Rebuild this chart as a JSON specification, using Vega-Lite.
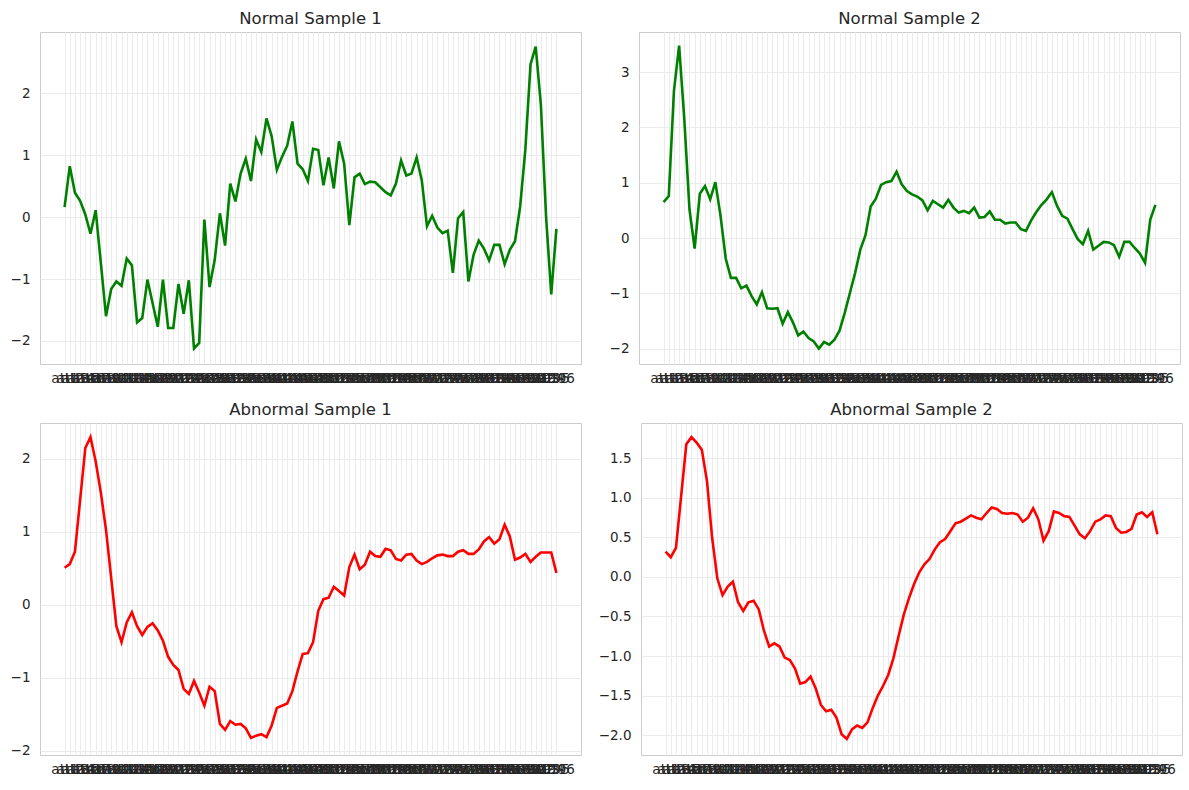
{
  "$schema": "https://vega.github.io/schema/vega-lite/v6.json",
  "padding": {"left": 9, "top": 10, "right": 5, "bottom": 5},
  "config": {
    "font": "DejaVu Sans",
    "view": {"stroke": "#cccccc", "strokeWidth": 1},
    "axis": {"labelFont": "DejaVu Sans", "labelFontSize": 13.5, "labelColor": "#262626", "grid": true, "gridColor": "#ebebeb", "gridWidth": 1, "domain": false, "ticks": false, "title": null},
    "title": {"fontSize": 16.5, "fontWeight": "normal", "color": "#262626", "font": "DejaVu Sans", "offset": 5, "anchor": "middle", "frame": "group"}
  },
  "data": {"values": [
    {"x":"att1","n1":0.16,"n2":0.65,"a1":0.51,"a2":0.32},
    {"x":"att2","n1":0.82,"n2":0.76,"a1":0.56,"a2":0.25},
    {"x":"att3","n1":0.39,"n2":2.66,"a1":0.73,"a2":0.37},
    {"x":"att4","n1":0.26,"n2":3.48,"a1":1.44,"a2":1.02},
    {"x":"att5","n1":0.04,"n2":2.15,"a1":2.15,"a2":1.68},
    {"x":"att6","n1":-0.27,"n2":0.52,"a1":2.30,"a2":1.77},
    {"x":"att7","n1":0.11,"n2":-0.19,"a1":1.97,"a2":1.70},
    {"x":"att8","n1":-0.74,"n2":0.80,"a1":1.54,"a2":1.61},
    {"x":"att9","n1":-1.60,"n2":0.94,"a1":1.03,"a2":1.21},
    {"x":"att10","n1":-1.16,"n2":0.70,"a1":0.37,"a2":0.49},
    {"x":"att11","n1":-1.04,"n2":1.01,"a1":-0.29,"a2":-0.02},
    {"x":"att12","n1":-1.11,"n2":0.40,"a1":-0.51,"a2":-0.23},
    {"x":"att13","n1":-0.67,"n2":-0.37,"a1":-0.24,"a2":-0.12},
    {"x":"att14","n1":-0.78,"n2":-0.72,"a1":-0.10,"a2":-0.06},
    {"x":"att15","n1":-1.70,"n2":-0.72,"a1":-0.29,"a2":-0.32},
    {"x":"att16","n1":-1.63,"n2":-0.91,"a1":-0.41,"a2":-0.43},
    {"x":"att17","n1":-1.01,"n2":-0.86,"a1":-0.30,"a2":-0.32},
    {"x":"att18","n1":-1.39,"n2":-1.05,"a1":-0.25,"a2":-0.30},
    {"x":"att19","n1":-1.77,"n2":-1.20,"a1":-0.35,"a2":-0.41},
    {"x":"att20","n1":-1.01,"n2":-0.98,"a1":-0.49,"a2":-0.68},
    {"x":"att21","n1":-1.79,"n2":-1.27,"a1":-0.71,"a2":-0.88},
    {"x":"att22","n1":-1.79,"n2":-1.28,"a1":-0.82,"a2":-0.84},
    {"x":"att23","n1":-1.08,"n2":-1.27,"a1":-0.89,"a2":-0.88},
    {"x":"att24","n1":-1.56,"n2":-1.55,"a1":-1.15,"a2":-1.02},
    {"x":"att25","n1":-1.02,"n2":-1.34,"a1":-1.22,"a2":-1.05},
    {"x":"att26","n1":-2.12,"n2":-1.53,"a1":-1.04,"a2":-1.16},
    {"x":"att27","n1":-2.03,"n2":-1.76,"a1":-1.20,"a2":-1.35},
    {"x":"att28","n1":-0.04,"n2":-1.69,"a1":-1.38,"a2":-1.33},
    {"x":"att29","n1":-1.13,"n2":-1.81,"a1":-1.12,"a2":-1.26},
    {"x":"att30","n1":-0.69,"n2":-1.87,"a1":-1.18,"a2":-1.41},
    {"x":"att31","n1":0.06,"n2":-2.00,"a1":-1.63,"a2":-1.62},
    {"x":"att32","n1":-0.46,"n2":-1.88,"a1":-1.71,"a2":-1.70},
    {"x":"att33","n1":0.54,"n2":-1.93,"a1":-1.59,"a2":-1.68},
    {"x":"att34","n1":0.25,"n2":-1.84,"a1":-1.64,"a2":-1.78},
    {"x":"att35","n1":0.70,"n2":-1.67,"a1":-1.63,"a2":-1.99},
    {"x":"att36","n1":0.94,"n2":-1.35,"a1":-1.69,"a2":-2.05},
    {"x":"att37","n1":0.58,"n2":-0.99,"a1":-1.82,"a2":-1.93},
    {"x":"att38","n1":1.25,"n2":-0.63,"a1":-1.79,"a2":-1.88},
    {"x":"att39","n1":1.05,"n2":-0.21,"a1":-1.77,"a2":-1.91},
    {"x":"att40","n1":1.59,"n2":0.05,"a1":-1.81,"a2":-1.84},
    {"x":"att41","n1":1.30,"n2":0.57,"a1":-1.65,"a2":-1.66},
    {"x":"att42","n1":0.76,"n2":0.71,"a1":-1.41,"a2":-1.50},
    {"x":"att43","n1":0.97,"n2":0.96,"a1":-1.38,"a2":-1.38},
    {"x":"att44","n1":1.15,"n2":1.01,"a1":-1.35,"a2":-1.24},
    {"x":"att45","n1":1.54,"n2":1.03,"a1":-1.18,"a2":-1.03},
    {"x":"att46","n1":0.86,"n2":1.20,"a1":-0.91,"a2":-0.75},
    {"x":"att47","n1":0.77,"n2":0.97,"a1":-0.67,"a2":-0.48},
    {"x":"att48","n1":0.58,"n2":0.85,"a1":-0.66,"a2":-0.27},
    {"x":"att49","n1":1.10,"n2":0.79,"a1":-0.51,"a2":-0.09},
    {"x":"att50","n1":1.08,"n2":0.75,"a1":-0.08,"a2":0.06},
    {"x":"att51","n1":0.51,"n2":0.68,"a1":0.08,"a2":0.16},
    {"x":"att52","n1":0.96,"n2":0.50,"a1":0.10,"a2":0.23},
    {"x":"att53","n1":0.46,"n2":0.67,"a1":0.25,"a2":0.35},
    {"x":"att54","n1":1.22,"n2":0.61,"a1":0.19,"a2":0.44},
    {"x":"att55","n1":0.86,"n2":0.55,"a1":0.13,"a2":0.48},
    {"x":"att56","n1":-0.13,"n2":0.69,"a1":0.52,"a2":0.58},
    {"x":"att57","n1":0.64,"n2":0.55,"a1":0.69,"a2":0.68},
    {"x":"att58","n1":0.70,"n2":0.46,"a1":0.49,"a2":0.70},
    {"x":"att59","n1":0.53,"n2":0.49,"a1":0.55,"a2":0.74},
    {"x":"att60","n1":0.57,"n2":0.45,"a1":0.73,"a2":0.78},
    {"x":"att61","n1":0.56,"n2":0.55,"a1":0.67,"a2":0.75},
    {"x":"att62","n1":0.48,"n2":0.37,"a1":0.66,"a2":0.73},
    {"x":"att63","n1":0.40,"n2":0.38,"a1":0.77,"a2":0.81},
    {"x":"att64","n1":0.35,"n2":0.48,"a1":0.75,"a2":0.88},
    {"x":"att65","n1":0.54,"n2":0.33,"a1":0.63,"a2":0.86},
    {"x":"att66","n1":0.91,"n2":0.33,"a1":0.61,"a2":0.81},
    {"x":"att67","n1":0.67,"n2":0.26,"a1":0.69,"a2":0.80},
    {"x":"att68","n1":0.70,"n2":0.28,"a1":0.70,"a2":0.81},
    {"x":"att69","n1":0.96,"n2":0.28,"a1":0.61,"a2":0.79},
    {"x":"att70","n1":0.59,"n2":0.16,"a1":0.56,"a2":0.70},
    {"x":"att71","n1":-0.15,"n2":0.13,"a1":0.59,"a2":0.75},
    {"x":"att72","n1":0.02,"n2":0.32,"a1":0.64,"a2":0.87},
    {"x":"att73","n1":-0.17,"n2":0.47,"a1":0.68,"a2":0.73},
    {"x":"att74","n1":-0.26,"n2":0.60,"a1":0.69,"a2":0.46},
    {"x":"att75","n1":-0.22,"n2":0.70,"a1":0.67,"a2":0.58},
    {"x":"att76","n1":-0.90,"n2":0.83,"a1":0.67,"a2":0.83},
    {"x":"att77","n1":-0.02,"n2":0.58,"a1":0.73,"a2":0.81},
    {"x":"att78","n1":0.08,"n2":0.40,"a1":0.75,"a2":0.77},
    {"x":"att79","n1":-1.04,"n2":0.35,"a1":0.70,"a2":0.76},
    {"x":"att80","n1":-0.61,"n2":0.16,"a1":0.70,"a2":0.65},
    {"x":"att81","n1":-0.38,"n2":-0.02,"a1":0.76,"a2":0.54},
    {"x":"att82","n1":-0.51,"n2":-0.11,"a1":0.87,"a2":0.49},
    {"x":"att83","n1":-0.70,"n2":0.13,"a1":0.93,"a2":0.58},
    {"x":"att84","n1":-0.45,"n2":-0.21,"a1":0.84,"a2":0.70},
    {"x":"att85","n1":-0.45,"n2":-0.14,"a1":0.90,"a2":0.73},
    {"x":"att86","n1":-0.76,"n2":-0.07,"a1":1.10,"a2":0.78},
    {"x":"att87","n1":-0.53,"n2":-0.08,"a1":0.94,"a2":0.77},
    {"x":"att88","n1":-0.39,"n2":-0.13,"a1":0.62,"a2":0.62},
    {"x":"att89","n1":0.17,"n2":-0.34,"a1":0.65,"a2":0.56},
    {"x":"att90","n1":1.09,"n2":-0.07,"a1":0.70,"a2":0.57},
    {"x":"att91","n1":2.46,"n2":-0.07,"a1":0.59,"a2":0.61},
    {"x":"att92","n1":2.75,"n2":-0.18,"a1":0.66,"a2":0.79},
    {"x":"att93","n1":1.81,"n2":-0.28,"a1":0.72,"a2":0.82},
    {"x":"att94","n1":0.01,"n2":-0.45,"a1":0.72,"a2":0.76},
    {"x":"att95","n1":-1.25,"n2":0.33,"a1":0.72,"a2":0.82},
    {"x":"att96","n1":-0.19,"n2":0.60,"a1":0.44,"a2":0.54}
  ]},
  "transform": [{"window": [{"op": "row_number", "as": "i"}]}],
  "spacing": 16,
  "vconcat": [
    {
      "spacing": 26,
      "hconcat": [
        {
          "title": "Normal Sample 1",
          "width": 541, "height": 332,
          "mark": {"type": "line", "color": "#008000", "strokeWidth": 2.6},
          "encoding": {
            "x": {"field": "i", "type": "quantitative", "scale": {"domain": [-3.75, 100.75], "nice": false, "zero": false}, "axis": {"values": [1,2,3,4,5,6,7,8,9,10,11,12,13,14,15,16,17,18,19,20,21,22,23,24,25,26,27,28,29,30,31,32,33,34,35,36,37,38,39,40,41,42,43,44,45,46,47,48,49,50,51,52,53,54,55,56,57,58,59,60,61,62,63,64,65,66,67,68,69,70,71,72,73,74,75,76,77,78,79,80,81,82,83,84,85,86,87,88,89,90,91,92,93,94,95,96], "labelExpr": "'att' + datum.value", "labelAngle": 0, "labelOverlap": false, "labelFlush": false, "labelPadding": 7}},
            "y": {"field": "n1", "type": "quantitative", "scale": {"domain": [-2.371, 2.984], "nice": false, "zero": false}, "axis": {"values": [-2, -1, 0, 1, 2], "format": "d", "labelPadding": 10}}
          }
        },
        {
          "title": "Normal Sample 2",
          "width": 541, "height": 332,
          "mark": {"type": "line", "color": "#008000", "strokeWidth": 2.6},
          "encoding": {
            "x": {"field": "i", "type": "quantitative", "scale": {"domain": [-3.75, 100.75], "nice": false, "zero": false}, "axis": {"values": [1,2,3,4,5,6,7,8,9,10,11,12,13,14,15,16,17,18,19,20,21,22,23,24,25,26,27,28,29,30,31,32,33,34,35,36,37,38,39,40,41,42,43,44,45,46,47,48,49,50,51,52,53,54,55,56,57,58,59,60,61,62,63,64,65,66,67,68,69,70,71,72,73,74,75,76,77,78,79,80,81,82,83,84,85,86,87,88,89,90,91,92,93,94,95,96], "labelExpr": "'att' + datum.value", "labelAngle": 0, "labelOverlap": false, "labelFlush": false, "labelPadding": 7}},
            "y": {"field": "n2", "type": "quantitative", "scale": {"domain": [-2.278, 3.725], "nice": false, "zero": false}, "axis": {"values": [-2, -1, 0, 1, 2, 3], "format": "d", "labelPadding": 10}}
          }
        }
      ]
    },
    {
      "spacing": 15,
      "hconcat": [
        {
          "title": "Abnormal Sample 1",
          "width": 541, "height": 332,
          "mark": {"type": "line", "color": "#ff0000", "strokeWidth": 2.6},
          "encoding": {
            "x": {"field": "i", "type": "quantitative", "scale": {"domain": [-3.75, 100.75], "nice": false, "zero": false}, "axis": {"values": [1,2,3,4,5,6,7,8,9,10,11,12,13,14,15,16,17,18,19,20,21,22,23,24,25,26,27,28,29,30,31,32,33,34,35,36,37,38,39,40,41,42,43,44,45,46,47,48,49,50,51,52,53,54,55,56,57,58,59,60,61,62,63,64,65,66,67,68,69,70,71,72,73,74,75,76,77,78,79,80,81,82,83,84,85,86,87,88,89,90,91,92,93,94,95,96], "labelExpr": "'att' + datum.value", "labelAngle": 0, "labelOverlap": false, "labelFlush": false, "labelPadding": 7}},
            "y": {"field": "a1", "type": "quantitative", "scale": {"domain": [-2.055, 2.493], "nice": false, "zero": false}, "axis": {"values": [-2, -1, 0, 1, 2], "format": "d", "labelPadding": 10}}
          }
        },
        {
          "title": "Abnormal Sample 2",
          "width": 541, "height": 332,
          "mark": {"type": "line", "color": "#ff0000", "strokeWidth": 2.6},
          "encoding": {
            "x": {"field": "i", "type": "quantitative", "scale": {"domain": [-3.75, 100.75], "nice": false, "zero": false}, "axis": {"values": [1,2,3,4,5,6,7,8,9,10,11,12,13,14,15,16,17,18,19,20,21,22,23,24,25,26,27,28,29,30,31,32,33,34,35,36,37,38,39,40,41,42,43,44,45,46,47,48,49,50,51,52,53,54,55,56,57,58,59,60,61,62,63,64,65,66,67,68,69,70,71,72,73,74,75,76,77,78,79,80,81,82,83,84,85,86,87,88,89,90,91,92,93,94,95,96], "labelExpr": "'att' + datum.value", "labelAngle": 0, "labelOverlap": false, "labelFlush": false, "labelPadding": 7}},
            "y": {"field": "a2", "type": "quantitative", "scale": {"domain": [-2.253, 1.949], "nice": false, "zero": false}, "axis": {"values": [-2, -1.5, -1, -0.5, 0, 0.5, 1, 1.5], "format": ".1f", "labelPadding": 10}}
          }
        }
      ]
    }
  ]
}
